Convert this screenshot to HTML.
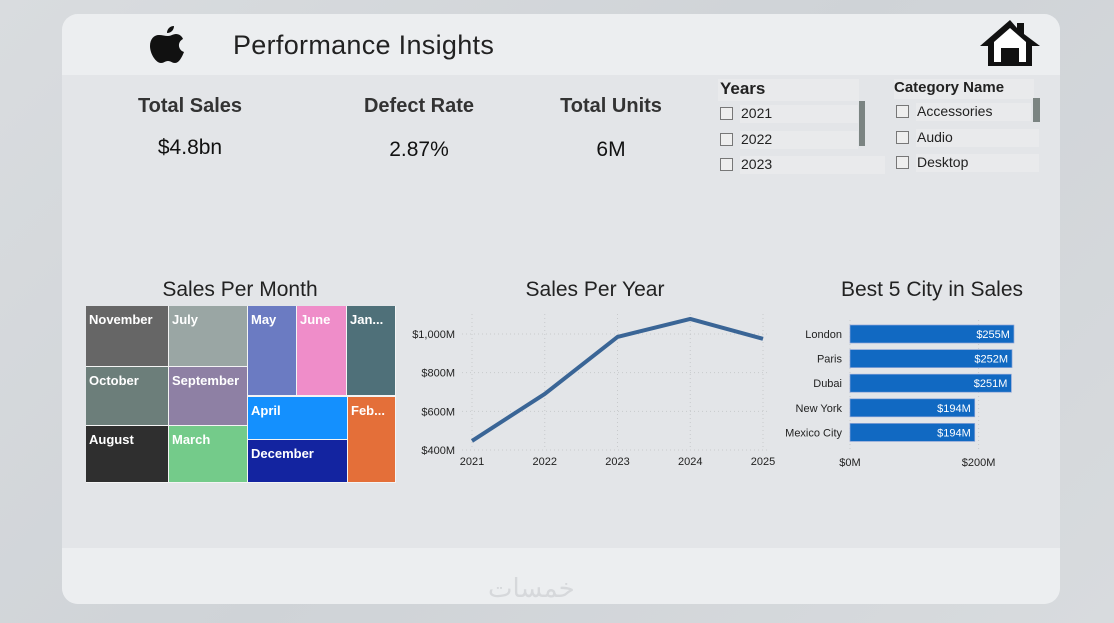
<!DOCTYPE html>
<html><head><meta charset="utf-8"><style>
*{margin:0;padding:0;box-sizing:border-box}
body{width:1114px;height:623px;overflow:hidden;background:linear-gradient(135deg,#d9dcdf,#cfd3d7 50%,#d8dbde);font-family:"Liberation Sans",sans-serif;position:relative}
.abs{position:absolute}
#card{left:62px;top:14px;width:998px;height:590px;border-radius:16px;background:#e3e5e8;overflow:hidden}
#hdr{left:0;top:0;width:998px;height:61px;background:#eceef0}
#ftr{left:0;top:534px;width:998px;height:56px;background:#eceef0}
.kt{font-weight:bold;font-size:20px;color:#333;text-align:center;width:200px}
.kv{font-size:21px;color:#111;text-align:center;width:200px}
.sl{font-size:14px;color:#222}
.cb{width:13px;height:13px;border:1px solid #777;background:#eee}
.row{background:#e9eaec;height:18px}
.ct{font-size:21px;color:#222;text-align:center}
.tm{position:absolute;color:#fff;font-weight:bold;font-size:13px;padding:6px 0 0 3px;overflow:hidden;white-space:nowrap}
</style></head><body>
<div id="card" class="abs">
 <div id="hdr" class="abs"></div>
 <div id="ftr" class="abs"></div>
</div>
<svg class="abs" style="left:150px;top:26px" width="36" height="38" viewBox="0 0 36 38"><path d="M24 0c0 4-3 7-7 7 0-4 3-7 7-7zM18 10c3 0 5-2 8-2 3 0 6 2 7 5-6 3-5 11 1 13-2 5-5 11-9 11-3 0-4-2-7-2s-4 2-7 2C6 37 0 28 0 20 0 13 4 9 9 9c3 0 6 1 9 1z" fill="#111"/></svg>
<div class="abs" style="left:233px;top:30px;font-size:27px;color:#222;letter-spacing:0.3px">Performance Insights</div>
<svg class="abs" style="left:978px;top:18px" width="64" height="50" viewBox="0 0 64 50"><path d="M32 2L2 28h8v20h17V34h10v14h17V28h8L46 16V5h-7v5z" fill="#111"/><path d="M32 10L16 24v20h7V30h18v14h7V24z" fill="#fff"/><rect x="27" y="30" width="10" height="18" fill="#111"/></svg>

<div class="abs kt" style="left:90px;top:95px">Total Sales</div>
<div class="abs kv" style="left:90px;top:136px">$4.8bn</div>
<div class="abs kt" style="left:319px;top:95px">Defect Rate</div>
<div class="abs kv" style="left:319px;top:138px">2.87%</div>
<div class="abs kt" style="left:511px;top:95px">Total Units</div>
<div class="abs kv" style="left:511px;top:138px">6M</div>

<div class="abs" style="left:718px;top:79px;width:141px;height:22px;background:#e9eaec;font-weight:bold;font-size:17px;color:#222;padding-left:2px">Years</div>
<div class="abs" style="left:718px;top:105px"><div class="abs cb" style="left:2px;top:2px"></div><div class="abs row sl" style="left:22px;top:0;width:118px;padding-left:1px">2021</div></div>
<div class="abs" style="left:718px;top:131px"><div class="abs cb" style="left:2px;top:2px"></div><div class="abs row sl" style="left:22px;top:0;width:118px;padding-left:1px">2022</div></div>
<div class="abs" style="left:718px;top:156px"><div class="abs cb" style="left:2px;top:2px"></div><div class="abs row sl" style="left:22px;top:0;width:145px;padding-left:1px">2023</div></div>
<div class="abs" style="left:859px;top:101px;width:6px;height:45px;background:#7b8482"></div>

<div class="abs" style="left:894px;top:79px;width:140px;height:20px;background:#e9eaec;font-weight:bold;font-size:15px;color:#222">Category Name</div>
<div class="abs" style="left:894px;top:103px"><div class="abs cb" style="left:2px;top:2px"></div><div class="abs row sl" style="left:22px;top:0;width:115px;padding-left:1px">Accessories</div></div>
<div class="abs" style="left:894px;top:129px"><div class="abs cb" style="left:2px;top:2px"></div><div class="abs row sl" style="left:22px;top:0;width:123px;padding-left:1px">Audio</div></div>
<div class="abs" style="left:894px;top:154px"><div class="abs cb" style="left:2px;top:2px"></div><div class="abs row sl" style="left:22px;top:0;width:123px;padding-left:1px">Desktop</div></div>
<div class="abs" style="left:1033px;top:98px;width:7px;height:24px;background:#7b8482"></div>

<div class="abs ct" style="left:110px;top:278px;width:260px">Sales Per Month</div>
<div class="abs ct" style="left:465px;top:278px;width:260px">Sales Per Year</div>
<div class="abs ct" style="left:802px;top:278px;width:260px">Best 5 City in Sales</div>

<div id="treemap" class="abs" style="left:86px;top:306px;width:310px;height:177px;background:#f4f4f4"></div>

<svg id="line" class="abs" style="left:400px;top:300px" width="390" height="180"></svg>
<svg id="bars" class="abs" style="left:780px;top:300px" width="280" height="180"></svg>

<div class="abs" style="left:488px;top:572px;font-size:26px;line-height:34px;color:#d6d8db;font-family:'DejaVu Sans',sans-serif">خمسات</div>

<script>
// Treemap
const months=["November","July","October","September","August","March","May","June","Jan...","April","December","Feb..."];
const monthColors=["#666666","#9aa6a4","#6c7e7a","#8e80a4","#2f2f2f","#74cb8a","#6b7bc2","#ef8dc9","#4f7079","#1490fe","#1324a0","#e46f39"];
const monthRects=[[0,0,82,60],[83,0,78,60],[0,61,82,58],[83,61,78,58],[0,120,82,56],[83,120,78,56],[162,0,48,89],[211,0,49,89],[261,0,48,89],[162,91,99,42],[162,134,99,42],[262,91,47,85]];
const tm=document.getElementById('treemap');
months.forEach((m,i)=>{const d=document.createElement('div');d.className='tm';
const r=monthRects[i];d.style.left=r[0]+'px';d.style.top=r[1]+'px';d.style.width=r[2]+'px';d.style.height=r[3]+'px';d.style.background=monthColors[i];d.textContent=m;


tm.appendChild(d);});

// Line chart
const years=["2021","2022","2023","2024","2025"];
const yearSales=[447,690,985,1078,975];
const yTicks=[400,600,800,1000];
const yTickLabels=["$400M","$600M","$800M","$1,000M"];
const NS='http://www.w3.org/2000/svg';
const ls=document.getElementById('line');
const lx=i=>72+i*72.75, ly=v=>150-(v-400)*0.1933;
function el(svg,t,a){const e=document.createElementNS(NS,t);for(const k in a)e.setAttribute(k,a[k]);svg.appendChild(e);return e;}
years.forEach((y,i)=>{const g=el(ls,'line',{x1:lx(i),x2:lx(i),y1:14,y2:150,stroke:'#c8cacc','stroke-dasharray':'1 3'});


const t=el(ls,'text',{x:lx(i),y:165,'text-anchor':'middle','font-size':11,fill:'#222'});t.textContent=y;

});
yTicks.forEach((v,i)=>{const g=el(ls,'line',{x1:62,x2:370,y1:ly(v),y2:ly(v),stroke:'#c8cacc','stroke-dasharray':'1 3'});


const t=el(ls,'text',{x:55,y:ly(v)+4,'text-anchor':'end','font-size':11,fill:'#222'});t.textContent=yTickLabels[i];

});
const p=el(ls,'polyline',{points:yearSales.map((v,i)=>lx(i)+','+ly(v)).join(' '),fill:'none',stroke:'#3a6596','stroke-width':4,'stroke-linejoin':'round'});



// Bar chart
const cities=["London","Paris","Dubai","New York","Mexico City"];
const citySales=[255,252,251,194,194];
const cityLabels=["$255M","$252M","$251M","$194M","$194M"];
const xTicks=[0,200];
const xTickLabels=["$0M","$200M"];
const bs=document.getElementById('bars');
const bx=v=>70+v*0.643, by=i=>25+i*24.6;
xTicks.forEach((v,i)=>{const g=el(bs,'line',{x1:bx(v),x2:bx(v),y1:20,y2:150,stroke:'#c8cacc','stroke-dasharray':'1 3'});


const t=el(bs,'text',{x:bx(v),y:166,'text-anchor':'middle','font-size':11,fill:'#222'});t.textContent=xTickLabels[i];

});
cities.forEach((c,i)=>{const r=el(bs,'rect',{x:bx(0),y:by(i),width:bx(citySales[i])-bx(0),height:18,fill:'#1169c2',stroke:'#8fa6d8','stroke-width':0.7});


const t=el(bs,'text',{x:62,y:by(i)+13,'text-anchor':'end','font-size':11,fill:'#222'});t.textContent=c;


const v=el(bs,'text',{x:bx(citySales[i])-4,y:by(i)+13,'text-anchor':'end','font-size':11,fill:'#fff'});v.textContent=cityLabels[i];

});
</script>
</body></html>
